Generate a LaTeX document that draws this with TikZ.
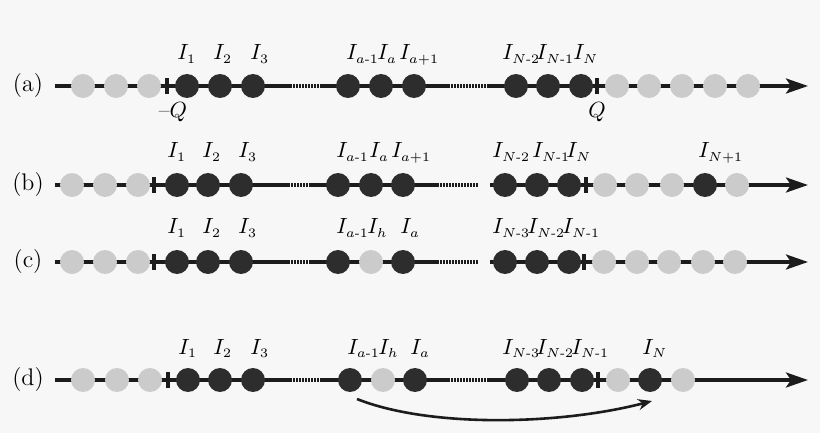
\RequirePackage{fix-cm}
\documentclass[tikz,border=0pt]{standalone}
\usepackage{amsmath}
\usetikzlibrary{arrows.meta}
\DeclareMathSizes{11}{11}{6.5}{5}
\definecolor{bgcol}{HTML}{F7F7F7}
\definecolor{ioncol}{HTML}{2D2D2D}
\definecolor{holecol}{HTML}{CBCBCB}
\definecolor{linecol}{HTML}{1C1C1C}
\begin{document}
\begin{tikzpicture}
        [
          x=0.5pt, y=-0.5pt,
          ion/.style={circle, fill=ioncol, minimum size=12pt, inner sep=0pt},
          hole/.style={circle, fill=holecol, minimum size=12pt, inner sep=0pt},
          bound/.style={fill=linecol, minimum width=1.9pt, minimum height=8pt, inner sep=0pt},
          axis/.style={draw=linecol, line width=1.7pt},
          gapdots/.style={draw=linecol, line width=1.7pt, dash pattern=on 0.8pt off 0.7pt},
          tip/.style={-{Stealth[length=11pt,width=7.5pt,inset=2.5pt]}},
          hop/.style={draw=linecol, line width=1.3pt, -{Stealth[length=7pt,width=5.5pt]}},
          ionlabel/.style={font=\fontsize{11}{13}\selectfont, anchor=base west, inner sep=0pt},
          rowlabel/.style={font=\fontsize{12}{14}\selectfont, inner sep=0pt}
        ]
        \useasboundingbox [fill=bgcol] (0,0) rectangle (820,433);
        % row (a)
        \node [rowlabel] (rowa) at (28,86) {(a)};
        \foreach \n/\x in {s/55,d1/290,d2/322,d3/448,d4/488,e/808} {
            \coordinate (a-\n) at (\x,86);
        }
        \draw [axis] (a-s) -- (a-d1);
        \draw [gapdots] (a-d1) -- (a-d2);
        \draw [axis] (a-d2) -- (a-d3);
        \draw [gapdots] (a-d3) -- (a-d4);
        \draw [axis,tip] (a-d4) -- (a-e);
        \node [bound] (a-b1) at (167,86) {};
        \node [bound] (a-b2) at (597,86) {};
        \foreach \x [count=\i] in {83,116,149,617,649,682,715,748} {
            \node [hole] (a-h\i) at (\x,86) {};
        }
        \foreach \x [count=\i] in {187,220,253,348,381,414,516,548,581} {
            \node [ion] (a-i\i) at (\x,86) {};
        }
        \foreach \x/\t [count=\i] in {177/{I_1},213/{I_2},250/{I_3},346/{I_{a\text{-}1}},377/{I_a},399/{I_{a{+}1}},502/{I_{N\text{-}2}},536/{I_{N\text{-}1}},573/{I_N}} {
            \node [ionlabel] (a-l\i) at (\x,60) {$\t$};
        }
        \node [ionlabel,anchor=base] (mq) at (173,118) {$\text{--}Q$};
        \node [ionlabel,anchor=base] (pq) at (597,118) {$Q$};
        % row (b)
        \node [rowlabel] (rowb) at (28,185) {(b)};
        \foreach \n/\x in {s/55,d1/288,d2/310,d3/437,d4/478,r/490,e/808} {
            \coordinate (b-\n) at (\x,185);
        }
        \draw [axis] (b-s) -- (b-d1);
        \draw [gapdots] (b-d1) -- (b-d2);
        \draw [axis] (b-d2) -- (b-d3);
        \draw [gapdots] (b-d3) -- (b-d4);
        \draw [axis,tip] (b-r) -- (b-e);
        \node [bound] (b-b1) at (154,185) {};
        \node [bound] (b-b2) at (586,185) {};
        \foreach \x [count=\i] in {72,105,138,605,637,672,737} {
            \node [hole] (b-h\i) at (\x,185) {};
        }
        \foreach \x [count=\i] in {177,208,241,338,371,403,505,537,569,705} {
            \node [ion] (b-i\i) at (\x,185) {};
        }
        \foreach \x/\t [count=\i] in {167/{I_1},202/{I_2},238/{I_3},336/{I_{a\text{-}1}},369/{I_a},391/{I_{a{+}1}},492/{I_{N\text{-}2}},532/{I_{N\text{-}1}},566/{I_N},698/{I_{N{+}1}}} {
            \node [ionlabel] (b-l\i) at (\x,158) {$\t$};
        }
        % row (c)
        \node [rowlabel] (rowc) at (28,262) {(c)};
        \foreach \n/\x in {s/55,d1/288,d2/310,d3/437,d4/478,r/490,e/808} {
            \coordinate (c-\n) at (\x,262);
        }
        \draw [axis] (c-s) -- (c-d1);
        \draw [gapdots] (c-d1) -- (c-d2);
        \draw [axis] (c-d2) -- (c-d3);
        \draw [gapdots] (c-d3) -- (c-d4);
        \draw [axis,tip] (c-r) -- (c-e);
        \node [bound] (c-b1) at (154,262) {};
        \node [bound] (c-b2) at (584,262) {};
        \foreach \x [count=\i] in {72,105,138,371,604,637,669,703,735} {
            \node [hole] (c-h\i) at (\x,262) {};
        }
        \foreach \x [count=\i] in {177,208,241,338,403,505,537,569} {
            \node [ion] (c-i\i) at (\x,262) {};
        }
        \foreach \x/\t [count=\i] in {167/{I_1},202/{I_2},238/{I_3},336/{I_{a\text{-}1}},367/{I_h},400/{I_a},492/{I_{N\text{-}3}},527/{I_{N\text{-}2}},562/{I_{N\text{-}1}}} {
            \node [ionlabel] (c-l\i) at (\x,234) {$\t$};
        }
        % row (d)
        \node [rowlabel] (rowd) at (28,380) {(d)};
        \foreach \n/\x in {s/55,d1/290,d2/322,d3/448,d4/488,e/808} {
            \coordinate (d-\n) at (\x,380);
        }
        \draw [axis] (d-s) -- (d-d1);
        \draw [gapdots] (d-d1) -- (d-d2);
        \draw [axis] (d-d2) -- (d-d3);
        \draw [gapdots] (d-d3) -- (d-d4);
        \draw [axis,tip] (d-d4) -- (d-e);
        \node [bound] (d-b1) at (168,380) {};
        \node [bound] (d-b2) at (598,380) {};
        \foreach \x [count=\i] in {83,117,150,383,618,683} {
            \node [hole] (d-h\i) at (\x,380) {};
        }
        \foreach \x [count=\i] in {188,220,253,350,415,517,549,582,650} {
            \node [ion] (d-i\i) at (\x,380) {};
        }
        \foreach \x/\t [count=\i] in {178/{I_1},213/{I_2},250/{I_3},347/{I_{a\text{-}1}},378/{I_h},410/{I_a},502/{I_{N\text{-}3}},536/{I_{N\text{-}2}},571/{I_{N\text{-}1}},642/{I_N}} {
            \node [ionlabel] (d-l\i) at (\x,354) {$\t$};
        }
        % hop of the hole
        \coordinate (hop-a) at (357,399);
        \coordinate (hop-b) at (652,401);
        \draw [hop] (hop-a) .. controls (430,428) and (560,425) .. (hop-b);
\end{tikzpicture}
\end{document}
